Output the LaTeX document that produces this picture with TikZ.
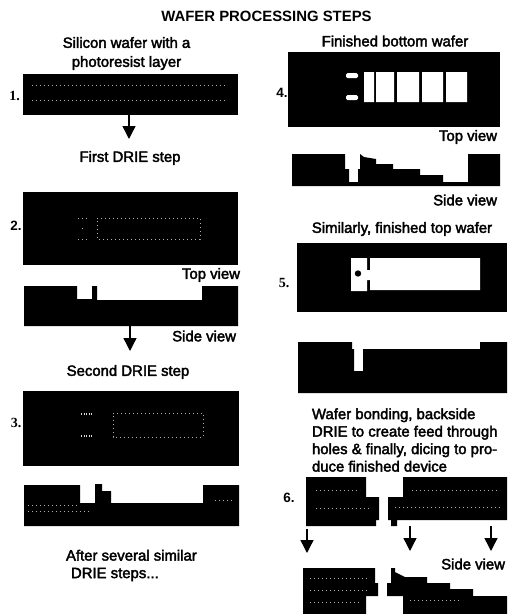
\documentclass[tikz,border=0pt]{standalone}
\usepackage{fontspec}
\setmainfont{Liberation Sans}
\newfontfamily\lab[FakeBold=2.5]{Liberation Sans}
\newfontfamily\titlefont{Liberation Sans Bold}
\newfontfamily\serifnum{Liberation Serif Bold}
\usetikzlibrary{arrows.meta}
\tikzset{
  panel/.style={fill=black,inner sep=0pt,outer sep=0pt},
  txt/.style={inner sep=0pt,outer sep=0pt,text=black,font={\lab\fontsize{14.9}{17.5}\selectfont}},
  num/.style={inner sep=0pt,outer sep=0pt,text=black,font={\titlefont\fontsize{13.5}{14}\selectfont}},
  snum/.style={inner sep=0pt,outer sep=0pt,text=black,font={\serifnum\fontsize{14}{14}\selectfont}},
  downarrow/.style={line width=1.4pt,-{Triangle[width=13pt,length=13pt]}},
  solid cut/.style={fill=black},
  hole/.style={fill=white},
  speck/.style={draw=white!70!black,line width=0.6pt,dash pattern=on 0.8pt off 3.2pt},
}
\begin{document}
\begin{tikzpicture}[x=1pt,y=-1pt]
\useasboundingbox (0,0) rectangle (507,614);
% title
\node[inner sep=0pt,font={\titlefont\fontsize{14.9}{14}\selectfont}] (title) at (266.5,16) {WAFER PROCESSING STEPS};
% left column labels
\node[txt,align=center,font={\lab\fontsize{14.9}{19}\selectfont}] (t1) at (126.5,53.5) {Silicon wafer with a\\photoresist layer};
\node[txt] (t2) at (130,158) {First DRIE step};
\node[txt,anchor=east] (tv2) at (240,275) {Top view};
\node[txt,anchor=east] (sv2) at (236,336) {Side view};
\node[txt] (t3) at (128,372) {Second DRIE step};
\node[txt,align=left,anchor=west] (t4) at (66,565.5) {After several similar\\\hspace*{5pt}DRIE steps...};
% numbers
\node[snum] (n1) at (14.5,95.5) {1.};
\node[num] (n2) at (16,226) {2.};
\node[snum] (n3) at (16,423) {3.};
\node[num] (n4) at (282,93) {4.};
\node[snum] (n5) at (284,283) {5.};
\node[num] (n6) at (289,498) {6.};
% panel 1
\node[panel,minimum width=215pt,minimum height=41pt] (p1) at (130.5,94.5) {};
\draw[speck] (32,85) -- (226,85) (32,100) -- (226,100);
% panel 2
\node[panel,minimum width=215pt,minimum height=73pt] (p2) at (130.5,228.5) {};
\draw[speck] (78,218) -- (88,218) (78,239) -- (88,239) (82,228) -- (84,228);
\draw[speck] (97,218) -- (200,218) -- (200,239) -- (97,239) -- cycle;
% side 2
\fill[solid cut] (24,286) -- (77,286) -- (77,299) -- (92,299) -- (92,286) -- (97,286) -- (97,300) -- (202,300) -- (202,286) -- (238,286) -- (238,326) -- (24,326) -- cycle;
\coordinate (s2b) at (130,326);
% panel 3
\node[panel,minimum width=216pt,minimum height=75pt] (p3) at (131,428.5) {};
\draw[speck,line width=1.2pt,draw=white!85!black,dash pattern=on 1pt off 1.5pt] (81,414) -- (93,414) (81,436) -- (93,436);
\draw[speck] (113,413) -- (203,413) -- (203,437) -- (113,437) -- cycle;
% side 3
\fill[solid cut] (24,485) -- (80,485) -- (80,503) -- (95,503) -- (95,484) -- (102,484) -- (102,491) -- (111,491) -- (111,503) -- (203,503) -- (203,485) -- (239,485) -- (239,526) -- (24,526) -- cycle;
\draw[speck] (28,505) -- (78,505) (28,511) -- (90,511) (215,500) -- (232,500);
% arrows left
\coordinate (a1) at (129,139);
\coordinate (a2) at (130,351);
\draw[downarrow] (p1.south -| a1) -- (a1);
\draw[downarrow] (s2b) -- (a2);
% right column labels
\node[txt] (t5) at (395,41) {Finished bottom wafer};
\node[txt,anchor=east] (tv4) at (497,137) {Top view};
\node[txt,anchor=east] (sv4) at (497,200) {Side view};
\node[txt] (t6) at (402,229) {Similarly, finished top wafer};
\node[txt,align=left,anchor=west] (t7) at (312,440) {Wafer bonding, backside\\DRIE to create feed through\\holes \& finally, dicing to pro-\\duce finished device};
\node[txt,anchor=east] (sv6) at (505,564) {Side view};
% panel 4
\node[panel,minimum width=212pt,minimum height=75pt] (p4) at (394,89.5) {};
\fill[hole,rounded corners=1.5pt] (346,73) rectangle (358,78) (346,95) rectangle (358,100);
\fill[hole] (364,72) rectangle (374,102) (376,72) rectangle (394,102) (397,72) rectangle (419,102) (422,72) rectangle (443,102) (446,72) rectangle (467,102);
% side 4
\fill[solid cut] (292,154) -- (345,154) -- (345,169) -- (349,169) -- (349,182) -- (358,182) -- (358,169) -- (360,169) -- (360,154) -- (364,157) -- (376,159) -- (376,164) -- (393,164) -- (393,169) -- (420,169) -- (420,175) -- (443,175) -- (443,182) -- (468,182) -- (468,154) -- (500,154) -- (500,186) -- (292,186) -- cycle;
% panel 5
\node[panel,minimum width=210pt,minimum height=69pt] (p5) at (402,277.5) {};
\fill[hole] (351,258) -- (367,258) -- (367,270) -- (370,270) -- (370,258) -- (480,258) -- (480,290) -- (370,290) -- (370,280) -- (367,280) -- (367,291) -- (351,291) -- cycle;
\fill[black] (358,273.5) circle (3.2pt);
% side 5
\fill[solid cut] (298,342) -- (352,342) -- (352,349) -- (354,349) -- (354,371) -- (363,371) -- (363,349) -- (371,349) -- (371,349) -- (480,349) -- (480,342) -- (507,342) -- (507,393) -- (298,393) -- cycle;
% device 6, upper
\fill[solid cut] (306,477) -- (366,477) -- (366,497) -- (379,497) -- (379,520) -- (376,520) -- (376,526) -- (306,526) -- cycle;
\fill[solid cut] (403,477) -- (507,477) -- (507,520) -- (397,520) -- (397,526) -- (391,526) -- (391,520) -- (388,520) -- (388,497) -- (403,497) -- cycle;
\draw[speck] (316,490) -- (360,490) (316,508) -- (372,508) (412,490) -- (500,490) (395,507) -- (500,507);
% device 6, lower
\fill[solid cut] (303,568) -- (375,568) -- (375,583) -- (378,583) -- (378,596) -- (366,596) -- (366,614) -- (303,614) -- cycle;
\fill[solid cut] (391,568) -- (395,568) -- (395,572) -- (405,577) -- (427,577) -- (427,583) -- (450,583) -- (450,589) -- (473,589) -- (473,596) -- (507,596) -- (507,614) -- (403,614) -- (403,596) -- (387,596) -- (387,583) -- (391,583) -- cycle;
\draw[speck] (310,578) -- (368,578) (310,590) -- (368,590) (310,602) -- (360,602) (410,600) -- (460,600);
% arrows right
\coordinate (a3s) at (307,529); \coordinate (a3) at (307,553);
\coordinate (a4s) at (410,526); \coordinate (a4) at (410,551);
\coordinate (a5s) at (491,526); \coordinate (a5) at (491,551);
\draw[downarrow] (a3s) -- (a3);
\draw[downarrow] (a4s) -- (a4);
\draw[downarrow] (a5s) -- (a5);
\end{tikzpicture}
\end{document}
